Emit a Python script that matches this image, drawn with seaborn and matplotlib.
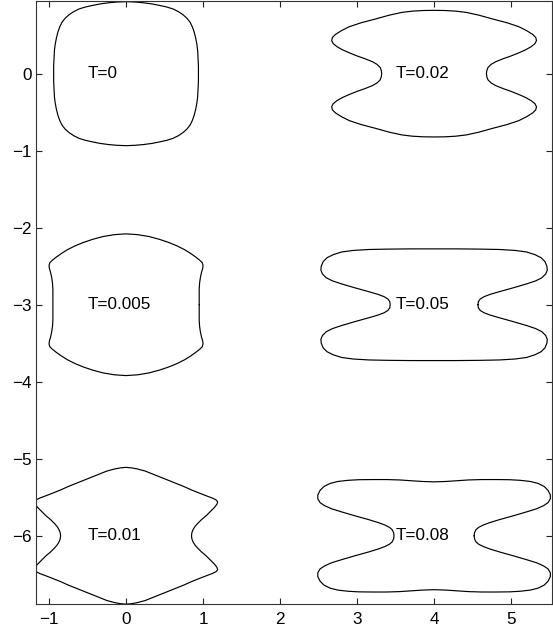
import numpy as np
import pandas as pd
import matplotlib
matplotlib.use("Agg")
import matplotlib.pyplot as plt
import seaborn as sns

# Labels and centres of the six shapes
labels = ["T=0", "T=0.02", "T=0.005", "T=0.05", "T=0.01", "T=0.08"]
centre_x = [0, 4, 0, 4, 0, 4]
centre_y = [0, 0, -3, -3, -6, -6]

# Upper-right quadrant of each (symmetric) contour,
# offsets from the centre, going from the right waist up to the top.
q_T0_x = [0.94, 0.94, 0.935, 0.93, 0.92, 0.905, 0.885, 0.86, 0.83, 0.79, 0.74, 0.68,
          0.61, 0.53, 0.44, 0.34, 0.23, 0.12, 0.0]
q_T0_y = [0.0, 0.10, 0.20, 0.30, 0.38, 0.46, 0.54, 0.61, 0.67, 0.72, 0.765, 0.805,
          0.84, 0.865, 0.885, 0.905, 0.92, 0.93, 0.935]

q_T002_x = [0.68, 0.685, 0.70, 0.74, 0.80, 0.90, 1.00, 1.10, 1.19, 1.26, 1.31, 1.33,
            1.32, 1.28, 1.20, 1.10, 0.95, 0.76, 0.58, 0.42, 0.28, 0.14, 0.0]
q_T002_y = [0.0, 0.04, 0.08, 0.12, 0.155, 0.195, 0.23, 0.27, 0.31, 0.35, 0.39, 0.43,
            0.47, 0.51, 0.56, 0.61, 0.66, 0.71, 0.76, 0.795, 0.812, 0.82, 0.822]

q_T0005_x = [0.95, 0.95, 0.95, 0.955, 0.965, 0.98, 0.995, 1.00, 0.99, 0.96, 0.91, 0.84,
             0.76, 0.66, 0.55, 0.43, 0.30, 0.15, 0.0]
q_T0005_y = [0.0, 0.10, 0.20, 0.28, 0.35, 0.42, 0.47, 0.51, 0.545, 0.575, 0.615, 0.665,
             0.715, 0.765, 0.81, 0.85, 0.885, 0.91, 0.92]

q_T005_x = [0.57, 0.575, 0.60, 0.65, 0.73, 0.85, 1.03, 1.20, 1.32, 1.40, 1.45, 1.47,
            1.465, 1.44, 1.39, 1.31, 1.20, 1.05, 0.85, 0.60, 0.30, 0.0]
q_T005_y = [0.0, 0.04, 0.075, 0.105, 0.135, 0.17, 0.22, 0.27, 0.31, 0.35, 0.40, 0.45,
            0.50, 0.56, 0.61, 0.65, 0.685, 0.705, 0.717, 0.722, 0.725, 0.725]

q_T001_x = [0.85, 0.855, 0.87, 0.895, 0.93, 0.98, 1.04, 1.10, 1.15, 1.18, 1.19, 1.17,
            1.12, 1.04, 0.95, 0.85, 0.75, 0.65, 0.55, 0.45, 0.35, 0.25, 0.15, 0.07, 0.0]
q_T001_y = [0.0, 0.04, 0.08, 0.12, 0.16, 0.21, 0.26, 0.32, 0.37, 0.41, 0.44, 0.465,
            0.49, 0.52, 0.555, 0.595, 0.64, 0.68, 0.72, 0.76, 0.80, 0.84, 0.867, 0.882, 0.888]

q_T008_x = [0.52, 0.525, 0.545, 0.58, 0.64, 0.72, 0.85, 1.03, 1.20, 1.33, 1.42, 1.48,
            1.51, 1.51, 1.48, 1.43, 1.35, 1.25, 1.12, 0.98, 0.80, 0.62, 0.45, 0.30, 0.15, 0.0]
q_T008_y = [0.0, 0.04, 0.08, 0.11, 0.14, 0.17, 0.21, 0.26, 0.31, 0.35, 0.39, 0.43,
            0.48, 0.53, 0.59, 0.64, 0.68, 0.705, 0.72, 0.728, 0.73, 0.73, 0.725, 0.715, 0.705, 0.70]

quad_x = [q_T0_x, q_T002_x, q_T0005_x, q_T005_x, q_T001_x, q_T008_x]
quad_y = [q_T0_y, q_T002_y, q_T0005_y, q_T005_y, q_T001_y, q_T008_y]


def full_loop(qx, qy):
    """Mirror one quadrant into the closed symmetric contour."""
    qx = np.asarray(qx, float)
    qy = np.asarray(qy, float)
    fx = np.concatenate([qx, -qx[::-1][1:], -qx[1:], qx[::-1][1:]])
    fy = np.concatenate([qy, qy[::-1][1:], -qy[1:], -qy[::-1][1:]])
    return fx, fy


sns.set_theme(style="ticks")
plt.rcParams["font.family"] = ["Liberation Sans", "DejaVu Sans"]

fig = plt.figure(figsize=(5.53, 6.32), dpi=100)
ax = fig.add_axes([0.065, 0.045, 0.933, 0.953])

for lab, cx, cy, qx, qy in zip(labels, centre_x, centre_y, quad_x, quad_y):
    fx, fy = full_loop(qx, qy)
    df = pd.DataFrame({"x": cx + fx, "y": cy + fy})
    sns.lineplot(data=df, x="x", y="y", sort=False, estimator=None,
                 color="black", linewidth=0.85, ax=ax)
    ax.text(cx - 0.5, cy, lab, ha="left", va="center", fontsize=12.3, color="black")

ax.set_xlim(-1.17, 5.53)
ax.set_ylim(-6.88, 0.94)
ax.set_xticks([-1, 0, 1, 2, 3, 4, 5])
ax.set_yticks([-6, -5, -4, -3, -2, -1, 0])
ax.set_xlabel("")
ax.set_ylabel("")
ax.tick_params(direction="in", length=4, width=0.8, top=True, right=True,
               labelsize=12.3, colors="#222222", labelcolor="black")
ax.tick_params(axis="x", pad=6)
ax.tick_params(axis="y", pad=3)
for s in ax.spines.values():
    s.set_visible(True)
    s.set_linewidth(0.8)
    s.set_color("#333333")

fig.savefig("out.png", dpi=100)
